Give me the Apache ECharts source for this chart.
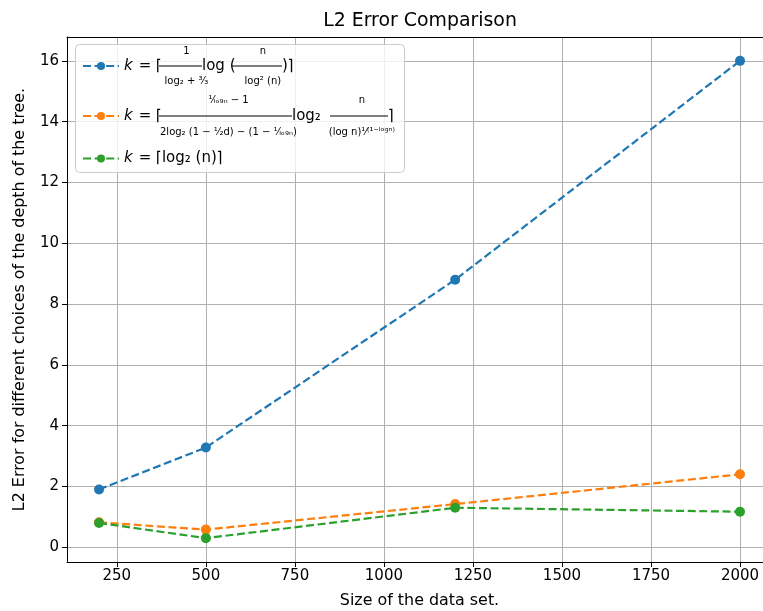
<!DOCTYPE html>
<html>
<head>
<meta charset="utf-8">
<script src="https://cdn.jsdelivr.net/npm/echarts@6/dist/echarts.min.js"></script>
<style>
  html, body { margin: 0; padding: 0; background: #fff; }
  #chart { width: 763px; height: 611px; }
</style>
</head>
<body>
<div id="chart"></div>
<script>
// data
const sizes = [200, 500, 1200, 2000];
const errBlue = [1.9, 3.28, 8.8, 16.0];
const errOrange = [0.82, 0.58, 1.42, 2.4];
const errGreen = [0.8, 0.3, 1.3, 1.17];
const xTicks = [250, 500, 750, 1000, 1250, 1500, 1750, 2000];
const yTicks = [0, 2, 4, 6, 8, 10, 12, 14, 16];
const seriesNames = ['k1', 'k2', 'k3'];
const colors = ['#1f77b4', '#ff7f0e', '#2ca02c'];

const FONT = 'DejaVu Sans';

// legend labels, stacked rich text (numerator / bar / denominator)
const legendText = {
  k1: [
    '{w35| }{f43|1}{w30| }{f50|n}',
    '{k|k}{t25| = ⌈}{bar43| }{t30|log (}{bar50| }{t|)⌉}',
    '{w35| }{f43|log₂ + ³⁄₃}{w30| }{f50|log² (n)}'
  ].join('\n'),
  k2: [
    '{v35| }{g133|¹⁄ₗₒ₉ₙ − 1}{v38| }{g58|n}',
    '{k|k}{t25| = ⌈}{bar133| }{t38|log₂}{bar58| }{t|⌉}',
    '{v35| }{g133|2log₂ (1 − ¹⁄₂d) − (1 − ¹⁄ₗₒ₉ₙ)}{v38| }{g58|(log n)¹⁄⁽¹⁻ˡᵒᵍⁿ⁾}'
  ].join('\n'),
  k3: '{k|k}{t| = ⌈log₂ (n)⌉}'
};
const legendTops = [46, 95, 151];

function small(w, lh) {
  return { width: w, align: 'center', fontFamily: FONT, fontSize: 10, color: '#000', lineHeight: lh };
}
function big(w) {
  return { width: w, fontFamily: FONT, fontSize: 15, lineHeight: 18 };
}
function bar(w) {
  return { width: w, height: 1, backgroundColor: '#000', fontSize: 1 };
}
const rich = {
  k: { fontFamily: FONT, fontStyle: 'italic', fontSize: 15, lineHeight: 18, width: 10 },
  t: { fontFamily: FONT, fontSize: 15, lineHeight: 18 },
  t25: big(25), t30: big(30), t38: big(38),
  w35: small(35, 12), w30: small(30, 12), f43: small(43, 12), f50: small(50, 12),
  v35: small(35, 14), v38: small(38, 14), g133: small(133, 14), g58: small(58, 14),
  bar43: bar(43), bar50: bar(50), bar133: bar(133), bar58: bar(58)
};

function makeSeries(i, values) {
  return {
    name: seriesNames[i],
    type: 'line',
    data: sizes.map((x, j) => [x, values[j]]),
    symbol: 'circle',
    symbolSize: 10,
    itemStyle: { color: colors[i] },
    lineStyle: { color: colors[i], width: 2.2, type: [8, 3.6] },
    emphasis: { disabled: true },
    animation: false
  };
}

function makeLegend(i) {
  return {
    orient: 'vertical',
    left: 82, top: legendTops[i],
    padding: 0,
    itemWidth: 36, itemHeight: 10,
    formatter: name => legendText[name],
    textStyle: { rich: rich, fontFamily: FONT, fontSize: 15, color: '#000' },
    data: [seriesNames[i]],
    z: 5
  };
}

const plain = v => String(v);

const chart = echarts.init(document.getElementById('chart'));
chart.setOption({
  backgroundColor: '#fff',
  textStyle: { fontFamily: FONT },
  title: {
    text: 'L2 Error Comparison',
    left: 415,
    textAlign: 'center',
    top: 7,
    textStyle: { fontFamily: FONT, fontSize: 18.9, fontWeight: 'normal', color: '#000' }
  },
  grid: { left: 67, right: 0, top: 37, bottom: 49, outerBoundsMode: 'none' },
  // legend frame
  graphic: [{
    type: 'rect',
    left: 75, top: 44, z: 4,
    shape: { width: 329, height: 128, r: 4 },
    style: { fill: 'rgba(255,255,255,0.8)', stroke: '#cccccc', lineWidth: 1 }
  }],
  legend: [makeLegend(0), makeLegend(1), makeLegend(2)],
  xAxis: [{
    type: 'value',
    min: 110, max: 2064.6,
    name: 'Size of the data set.',
    nameLocation: 'middle',
    nameGap: 31,
    nameTextStyle: { fontFamily: FONT, fontSize: 15.9, color: '#000', padding: [0, 0, 0, 9] },
    axisLine: { show: true, onZero: false, lineStyle: { color: '#000', width: 1 } },
    axisTick: { show: true, length: 5, lineStyle: { color: '#000' }, customValues: xTicks },
    axisLabel: { fontFamily: FONT, fontSize: 15, color: '#000', margin: 7, formatter: plain, customValues: xTicks },
    splitLine: { show: true, lineStyle: { color: '#b0b0b0', width: 1 }, customValues: xTicks }
  }, {
    // top spine only
    type: 'value',
    position: 'top',
    min: 110, max: 2064.6,
    axisLine: { show: true, onZero: false, lineStyle: { color: '#000', width: 1 } },
    axisTick: { show: false },
    axisLabel: { show: false },
    splitLine: { show: false }
  }],
  yAxis: {
    type: 'value',
    min: -0.485, max: 16.785,
    name: 'L2 Error for different choices of the depth of the tree.',
    nameLocation: 'middle',
    nameGap: 39,
    nameTextStyle: { fontFamily: FONT, fontSize: 15.9, color: '#000' },
    axisLine: { show: true, onZero: false, lineStyle: { color: '#000', width: 1 } },
    axisTick: { show: true, length: 5, lineStyle: { color: '#000' }, customValues: yTicks },
    axisLabel: { fontFamily: FONT, fontSize: 15, color: '#000', margin: 8, formatter: plain, customValues: yTicks },
    splitLine: { show: true, lineStyle: { color: '#b0b0b0', width: 1 }, customValues: yTicks }
  },
  series: [
    makeSeries(0, errBlue),
    makeSeries(1, errOrange),
    makeSeries(2, errGreen)
  ]
});
</script>
</body>
</html>
